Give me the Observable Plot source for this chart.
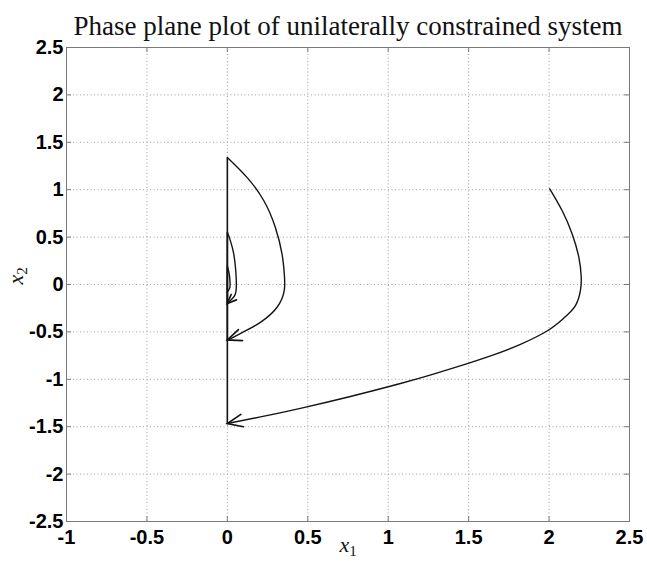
<!DOCTYPE html>
<html>
<head>
<meta charset="utf-8">
<script src="https://cdn.jsdelivr.net/npm/d3@7"></script>
<script src="https://cdn.jsdelivr.net/npm/@observablehq/plot@0.6"></script>
<style>
  html, body { margin: 0; padding: 0; background: #fff; }
</style>
</head>
<body>
<div id="chart"></div>
<script>
// Free-flight arcs of the constrained oscillator between impacts
// (x1 = position, x2 = velocity); each arc ends on the wall x1 = 0.
const arc1X1 = [2.004, 2.081, 2.143, 2.185, 2.200, 2.195, 2.164, 2.089, 1.990, 1.822, 1.654, 1.492, 1.281, 1.076, 0.765, 0.454, 0.206, 0.0];
const arc1X2 = [1.01, 0.78, 0.535, 0.288, 0.077, -0.063, -0.222, -0.359, -0.488, -0.631, -0.742, -0.834, -0.945, -1.044, -1.181, -1.306, -1.397, -1.466];

const arc2X1 = [0.0, 0.122, 0.226, 0.298, 0.340, 0.354, 0.354, 0.309, 0.205, 0.100, 0.019, 0.0];
const arc2X2 = [1.34, 1.13, 0.886, 0.604, 0.32, 0.11, -0.06, -0.24, -0.40, -0.50, -0.573, -0.585];

const arc3X1 = [0.0, 0.019, 0.040, 0.052, 0.056, 0.050, 0.030, 0.0];
const arc3X2 = [0.55, 0.46, 0.32, 0.15, 0.0, -0.10, -0.15, -0.20];

const arc4X1 = [0.0, 0.008, 0.014, 0.017, 0.014, 0.006, 0.0];
const arc4X2 = [0.19, 0.14, 0.08, 0.0, -0.04, -0.065, -0.075];

const xTicks = [-1, -0.5, 0, 0.5, 1, 1.5, 2, 2.5];
const yTicks = [-2.5, -2, -1.5, -1, -0.5, 0, 0.5, 1, 1.5, 2, 2.5];

const titleText = "Phase plane plot of unilaterally constrained system";
const xLabelText = "x_1";
const yLabelText = "x_2";

// Layout
const W = 647, H = 561;
const ML = 66, MR = 18, MT = 47, MB = 40;
const innerW = W - ML - MR, innerH = H - MT - MB;
const xDomain = [xTicks[0], xTicks[xTicks.length - 1]];
const yDomain = [yTicks[0], yTicks[yTicks.length - 1]];
const kx = innerW / (xDomain[1] - xDomain[0]);
const ky = innerH / (yDomain[1] - yDomain[0]);

const arcs = [[arc1X1, arc1X2], [arc2X1, arc2X2], [arc3X1, arc3X2], [arc4X1, arc4X2]]
  .map(([xs, ys], k) => xs.map((x1, i) => ({arc: k, x1, x2: ys[i]})));
const points = arcs.flat();

// Impacts: velocity jumps at the wall from the end of one arc to the start of the next
const jumps = arcs.slice(0, -1).map((a, k) => {
  const end = a[a.length - 1], start = arcs[k + 1][0];
  return {xa: end.x1, ya: end.x2, xb: start.x1, yb: start.x2};
});

// Arrowheads at the end of the first three arcs, oriented along the arc in screen space
const headSizes = [15, 14, 9];
const heads = arcs.slice(0, 3).map((a, k) => {
  const tip = a[a.length - 1], prev = a[a.length - 2];
  const dx = (tip.x1 - prev.x1) * kx;
  const dyUp = (tip.x2 - prev.x2) * ky;
  return {x1: tip.x1, x2: tip.x2, angle: Math.atan2(dx, dyUp) * 180 / Math.PI, size: headSizes[k]};
});

const chevron = {
  draw(context, l) {
    const w = l * 0.42;
    context.moveTo(-w, l);
    context.lineTo(0, 0);
    context.lineTo(w, l);
  }
};

const frameColor = "#7a7a7a";
const gridStyle = {stroke: "#a0a0a0", strokeOpacity: 1, strokeWidth: 1, strokeDasharray: "1,2.5"};
const tickFont = {fontSize: 20, fontWeight: "bold", fontFamily: "Liberation Sans, Arial, sans-serif"};
const ink = "#141414";

const chart = Plot.plot({
  width: W,
  height: H,
  marginLeft: ML,
  marginRight: MR,
  marginTop: MT,
  marginBottom: MB,
  x: {domain: xDomain},
  y: {domain: yDomain},
  style: {background: "#fff", color: "#000"},
  marks: [
    Plot.ruleX(xTicks.slice(1, -1), gridStyle),
    Plot.ruleY(yTicks.slice(1, -1), gridStyle),
    Plot.frame({stroke: frameColor, strokeWidth: 1}),
    // inward tick marks on all four sides
    Plot.tickX(xTicks, {x: d => d, insetTop: innerH - 5, stroke: frameColor}),
    Plot.tickX(xTicks, {x: d => d, insetBottom: innerH - 5, stroke: frameColor}),
    Plot.tickY(yTicks, {y: d => d, insetRight: innerW - 5, stroke: frameColor}),
    Plot.tickY(yTicks, {y: d => d, insetLeft: innerW - 5, stroke: frameColor}),
    Plot.axisX({ticks: xTicks, tickSize: 0, tickPadding: 8, tickFormat: d => String(d), label: null, ...tickFont}),
    Plot.axisY({ticks: yTicks, tickSize: 0, tickPadding: 3, tickFormat: d => String(d), label: null, ...tickFont}),
    Plot.link(jumps, {x1: "xa", y1: "ya", x2: "xb", y2: "yb", stroke: ink, strokeWidth: 1.6}),
    Plot.line(points, {x: "x1", y: "x2", z: "arc", curve: "natural", stroke: ink, strokeWidth: 1.4}),
    ...heads.map(h => Plot.vector([h], {
      x: "x1", y: "x2", rotate: h.angle, length: h.size, anchor: "start",
      shape: chevron, stroke: ink, strokeWidth: 1.7, strokeLinejoin: "miter"
    })),
    Plot.text([titleText], {
      text: d => d, frameAnchor: "top", dy: -32,
      fontSize: 27, fontFamily: "Liberation Serif, Times New Roman, serif", fill: "#111"
    }),
    Plot.text([xLabelText], {
      text: d => d, frameAnchor: "bottom", dy: 30,
      fontSize: 22, fontFamily: "Liberation Serif, serif", fill: "#111"
    }),
    Plot.text([yLabelText], {
      text: d => d, frameAnchor: "left", dx: -51, rotate: -90,
      fontSize: 22, fontFamily: "Liberation Serif, serif", fill: "#111"
    })
  ]
});

// Typeset the axis labels as italic variable with an upright subscript
d3.select(chart).selectAll("text")
  .filter(function () { return /^x_\d$/.test(this.textContent); })
  .each(function () {
    const [base, sub] = this.textContent.split("_");
    const t = d3.select(this).text("");
    t.append("tspan").attr("font-style", "italic").text(base);
    t.append("tspan").attr("font-size", "15").attr("dy", "0.3em").text(sub);
  });

document.getElementById("chart").append(chart);
</script>
</body>
</html>
